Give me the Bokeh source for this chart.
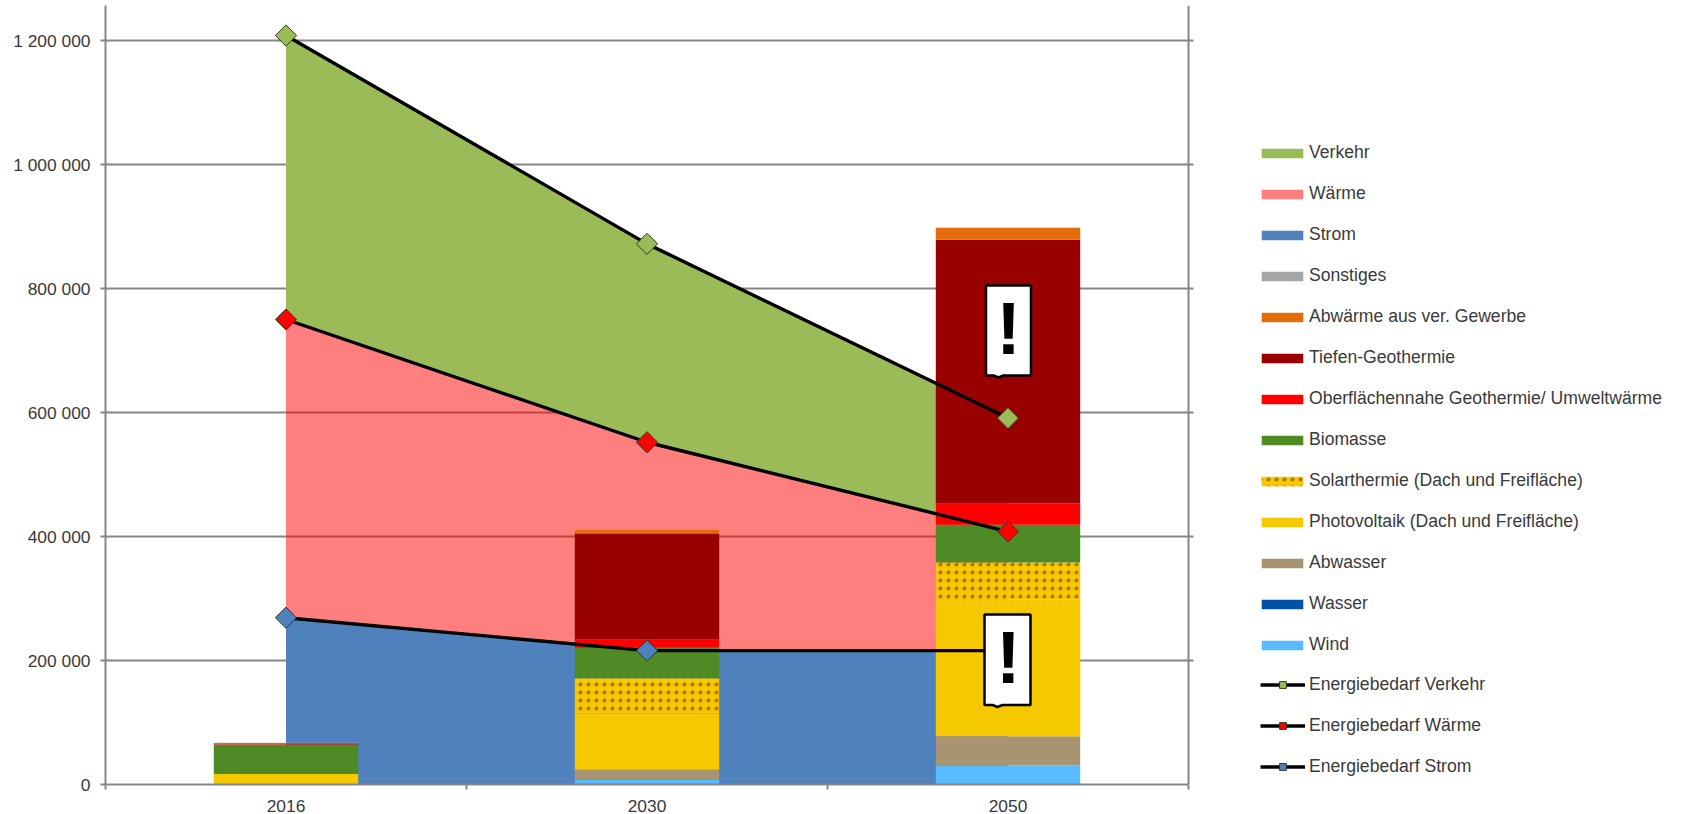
from bokeh.embed import file_html
from bokeh.resources import INLINE
from bokeh.plotting import figure
from bokeh.models import (Range1d, LinearAxis, FixedTicker, Grid, Span, Legend, LegendItem, PolyAnnotation, Label)

years = ["2016", "2030", "2050"]
y_ticks = [0, 200000, 400000, 600000, 800000, 1000000, 1200000]
y_tick_labels = ["0", "200 000", "400 000", "600 000", "800 000", "1 000 000", "1 200 000"]

# Demand areas (stacked)
strom = [269000, 216000, 216000]
waerme = [481000, 336000, 192000]
verkehr = [458000, 320000, 183000]

# Supply bars (stacked, bottom to top)
wind = [0, 8000, 30600]
wasser = [0, 0, 0]
abwasser = [0, 15700, 47400]
photovoltaik = [17000, 90800, 220000]
solarthermie = [0, 57000, 60000]
biomasse = [47500, 49000, 61000]
oberflaeche = [2100, 13500, 34700]
tiefen = [0, 171000, 424800]
abwaerme = [0, 5800, 19500]
sonstiges = [800, 800, 0]

bar_series = [
    ("Wind", wind, "#59BBFF"),
    ("Wasser", wasser, "#0052A5"),
    ("Abwasser", abwasser, "#A89470"),
    ("Photovoltaik (Dach und Freifläche)", photovoltaik, "#F6C800"),
    ("Solarthermie (Dach und Freifläche)", solarthermie, "#F6C800"),
    ("Biomasse", biomasse, "#4E8B24"),
    ("Oberflächennahe Geothermie/ Umweltwärme", oberflaeche, "#FF0000"),
    ("Tiefen-Geothermie", tiefen, "#990000"),
    ("Abwärme aus ver. Gewerbe", abwaerme, "#E46C0A"),
    ("Sonstiges", sonstiges, "#A6A6A6"),
]

GRAY = "#868686"
TEXT = "#3A3A3A"
FONT = "Liberation Sans"

n_cat = len(years)
px_per_cat = 361
frame_w = 1690 - 105
x_pos = [i + 0.5 for i in range(n_cat)]
x_edges = list(range(n_cat + 1))

p = figure(width=1690, height=814, output_backend="svg", toolbar_location=None,
           x_range=Range1d(0, frame_w / px_per_cat),
           y_range=Range1d(0, 779 / 124 * 200000),
           min_border_left=105, min_border_right=0, min_border_top=5, min_border_bottom=30,
           x_axis_location=None, y_axis_location=None, outline_line_color=None,
           background_fill_color="white", border_fill_color="white")
for g in p.grid:
    g.visible = False

left = LinearAxis(ticker=FixedTicker(ticks=y_ticks), major_label_overrides=dict(zip(y_ticks, y_tick_labels)),
                  axis_line_color=GRAY, axis_line_width=2, major_tick_line_color=GRAY, major_tick_line_width=2,
                  major_tick_out=5, major_tick_in=0, minor_tick_line_color=None,
                  major_label_text_font=FONT, major_label_text_font_size="17.4px",
                  major_label_text_color=TEXT, major_label_standoff=10)
p.add_layout(left, "left")

bottom_axis = LinearAxis(ticker=FixedTicker(ticks=x_pos, minor_ticks=x_edges), bounds=(0, n_cat),
                         major_label_overrides=dict(zip(x_pos, years)),
                         major_label_text_font=FONT, major_label_text_font_size="17.4px",
                         major_label_text_color=TEXT, major_label_standoff=10,
                         axis_line_color=GRAY, axis_line_width=2,
                         major_tick_line_color=None, major_tick_out=0, major_tick_in=0,
                         minor_tick_line_color=GRAY, minor_tick_line_width=2, minor_tick_out=5, minor_tick_in=0)
p.add_layout(bottom_axis, "below")

p.add_layout(Grid(dimension=1, ticker=FixedTicker(ticks=y_ticks), grid_line_color=GRAY, grid_line_width=2,
                  axis=left, cross_bounds=(0, n_cat + 5 / px_per_cat)))
p.add_layout(Span(location=n_cat, dimension="height", line_color=GRAY, line_width=2, level="underlay"))

# Demand areas
s1 = strom
s2 = [a + b for a, b in zip(s1, waerme)]
s3 = [a + b for a, b in zip(s2, verkehr)]
area_strom = p.varea(x=x_pos, y1=[0, 0, 0], y2=s1, fill_color="#4F81BD")
area_waerme = p.varea(x=x_pos, y1=s1, y2=s2, fill_color="#FF0000", fill_alpha=0.5)
area_verkehr = p.varea(x=x_pos, y1=s2, y2=s3, fill_color="#9BBB59")

# Supply bars
bar_r = {}
bottom = [0, 0, 0]
for name, vals, col in bar_series:
    top = [a + b for a, b in zip(bottom, vals)]
    kw = {}
    if name.startswith("Solar"):
        kw = dict(hatch_pattern="dot", hatch_color="#9A4A00", hatch_scale=8, hatch_alpha=0.7)
    bar_r[name] = p.vbar(x=x_pos, bottom=bottom, top=top, width=0.4, fill_color=col, line_color=None, **kw)
    bottom = top

# Demand lines
def demand(vals, col):
    l = p.line(x=x_pos, y=vals, line_color="black", line_width=3.4)
    m = p.scatter(x=x_pos, y=vals, marker="square", angle=0.7854, size=15,
                  fill_color=col, line_color="#2E3A1E", line_width=1)
    return l, m
line_s = demand(s1, "#4F81BD")
line_w = demand(s2, "#FF0000")
line_v = demand(s3, "#9BBB59")

# Legends
order = ["Sonstiges", "Abwärme aus ver. Gewerbe", "Tiefen-Geothermie",
         "Oberflächennahe Geothermie/ Umweltwärme", "Biomasse",
         "Solarthermie (Dach und Freifläche)", "Photovoltaik (Dach und Freifläche)",
         "Abwasser", "Wasser", "Wind"]
items_a = [LegendItem(label="Verkehr", renderers=[area_verkehr]),
           LegendItem(label="Wärme", renderers=[area_waerme]),
           LegendItem(label="Strom", renderers=[area_strom])]
items_a += [LegendItem(label=n, renderers=[bar_r[n]]) for n in order]
items_b = [LegendItem(label="Energiebedarf Verkehr", renderers=list(line_v)),
           LegendItem(label="Energiebedarf Wärme", renderers=list(line_w)),
           LegendItem(label="Energiebedarf Strom", renderers=list(line_s))]

def make_legend(items, gw, gh, standoff, loc):
    return Legend(items=items, location=loc, glyph_width=gw, glyph_height=gh, label_standoff=standoff,
                  spacing=20, padding=0, margin=0, border_line_color=None, background_fill_alpha=0,
                  label_text_font=FONT, label_text_font_size="17.6px", label_text_color=TEXT,
                  label_height=20)

p.add_layout(make_legend(items_a, 52, 12, 1, (1256 - 105, 129)), "center")
p.add_layout(make_legend(items_b, 45, 17, 4, (1260 - 105, 7)), "center")

# Warning boxes
def warn(x0, x1, y0, y1, nx, tx, ty):
    px = [x0, x1, x1, nx + 5, nx, nx - 5, x0, x0]
    py = [y0, y0, y1, y1, y1 + 2, y1, y1, y0]
    p.add_layout(PolyAnnotation(xs=px, ys=py, xs_units="canvas", ys_units="canvas",
                                fill_color="white", fill_alpha=1, line_color="black", line_alpha=1, line_width=2.5))
    p.add_layout(Label(x=tx, y=ty - 29, x_units="canvas", y_units="canvas", text="!", text_align="center",
                       text_baseline="alphabetic", text_font=FONT, text_font_style="bold", text_font_size="74px",
                       text_color="black"))
warn(985.5, 1030.5, 285, 375, 998, 1008, 357)
warn(984, 1030, 614, 704.5, 997, 1007.7, 686)

open("out.html", "w").write(file_html(p, INLINE))
